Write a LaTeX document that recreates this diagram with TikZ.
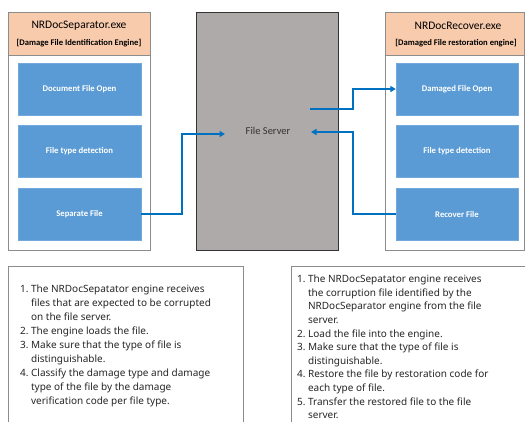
\documentclass[tikz,border=0pt]{standalone}
\usepackage{fontspec}
\setmainfont{Noto Sans}
\newfontfamily\carl{Carlito}
\usetikzlibrary{arrows.meta}
\definecolor{peach}{RGB}{248,203,173}
\definecolor{bluebox}{RGB}{91,155,213}
\definecolor{arrowblue}{RGB}{0,112,192}
\definecolor{servergray}{RGB}{174,170,170}
\definecolor{framegray}{RGB}{140,140,140}
\begin{document}
\begin{tikzpicture}[x=1pt,y=-1pt,
  frame/.style={draw=framegray,line width=0.8pt,fill=white},
  headbox/.style={draw=framegray,line width=0.8pt,fill=peach},
  bluestep/.style={fill=bluebox,draw=bluebox!85!white,line width=0.4pt,minimum width=123pt,minimum height=52pt,inner sep=0pt,
     text=white,font=\carl\bfseries\fontsize{8.7}{10}\selectfont},
  conn/.style={draw=arrowblue,line width=2pt},
  arr/.style={conn,-{Triangle[length=5.5pt,width=6pt]}},
  listtext/.style={anchor=north west,inner sep=0pt,align=left,font=\fontsize{10}{14}\selectfont,text=black!85}]
\useasboundingbox (0,0) rectangle (525,421);
% left panel
\draw[frame] (8,12) rectangle (150,250);
\draw[headbox] (8,12) rectangle (150,55);
\node[font=\carl\fontsize{11.5}{13}\selectfont] (lt1) at (79,26) {NRDocSeparator.exe};
\node[font=\carl\bfseries\fontsize{8.6}{10}\selectfont] (lt2) at (79,43) {[Damage File Identification Engine]};
\node[bluestep] (dfo1) at (79.5,89) {Document File Open};
\node[bluestep] (ftd1) at (79.5,151) {File type detection};
\node[bluestep] (sep) at (79.5,214) {Separate File};
% server
\node[draw=black!80,line width=1pt,fill=servergray,minimum width=142pt,minimum height=238pt,inner sep=0pt] (srv) at (267,131) {};
\node[font=\carl\fontsize{10.5}{12}\selectfont,text=black!80] (srvlabel) at (268,131) {File Server};
% right panel
\draw[frame] (385,12) rectangle (524,250);
\draw[headbox] (385,12) rectangle (524,55);
\node[font=\carl\fontsize{11.5}{13}\selectfont] (rt1) at (458,26) {NRDocRecover.exe};
\node[font=\carl\bfseries\fontsize{8.6}{10}\selectfont] (rt2) at (456,43) {[Damaged File restoration engine]};
\node[bluestep,minimum width=122pt] (dfo2) at (457,89) {Damaged File Open};
\node[bluestep,minimum width=122pt] (ftd2) at (457,151) {File type detection};
\node[bluestep,minimum width=122pt] (rec) at (457,214) {Recover File};
% connectors
\coordinate (srvin) at (225,134);
\coordinate (srvout) at (310,109);
\coordinate (srvback) at (311,132);
\draw[arr] (sep.east) -- (182,214) |- (srvin);
\draw[arr] (srvout) -- (353,109) |- (dfo2.west);
\draw[arr] (rec.west) -- (353,214) |- (srvback);
% text boxes
\draw[frame] (8,266) rectangle (243,430);
\draw[frame] (291,266) rectangle (530,430);
\node[listtext] (ltext) at (20,282) {%
\begin{tabular}{@{}l@{\hspace{2.5pt}}l@{}}
1. & The NRDocSepatator engine receives\\
   & files that are expected to be corrupted\\
   & on the file server.\\
2. & The engine loads the file.\\
3. & Make sure that the type of file is\\
   & distinguishable.\\
4. & Classify the damage type and damage\\
   & type of the file by the damage\\
   & verification code per file type.
\end{tabular}};
\node[listtext,font=\fontsize{10}{13.6}\selectfont] (rtext) at (297,273) {%
\begin{tabular}{@{}l@{\hspace{2.5pt}}l@{}}
1. & The NRDocSepatator engine receives\\
   & the corruption file identified by the\\
   & NRDocSeparator engine from the file\\
   & server.\\
2. & Load the file into the engine.\\
3. & Make sure that the type of file is\\
   & distinguishable.\\
4. & Restore the file by restoration code for\\
   & each type of file.\\
5. & Transfer the restored file to the file\\
   & server.
\end{tabular}};
\end{tikzpicture}
\end{document}
